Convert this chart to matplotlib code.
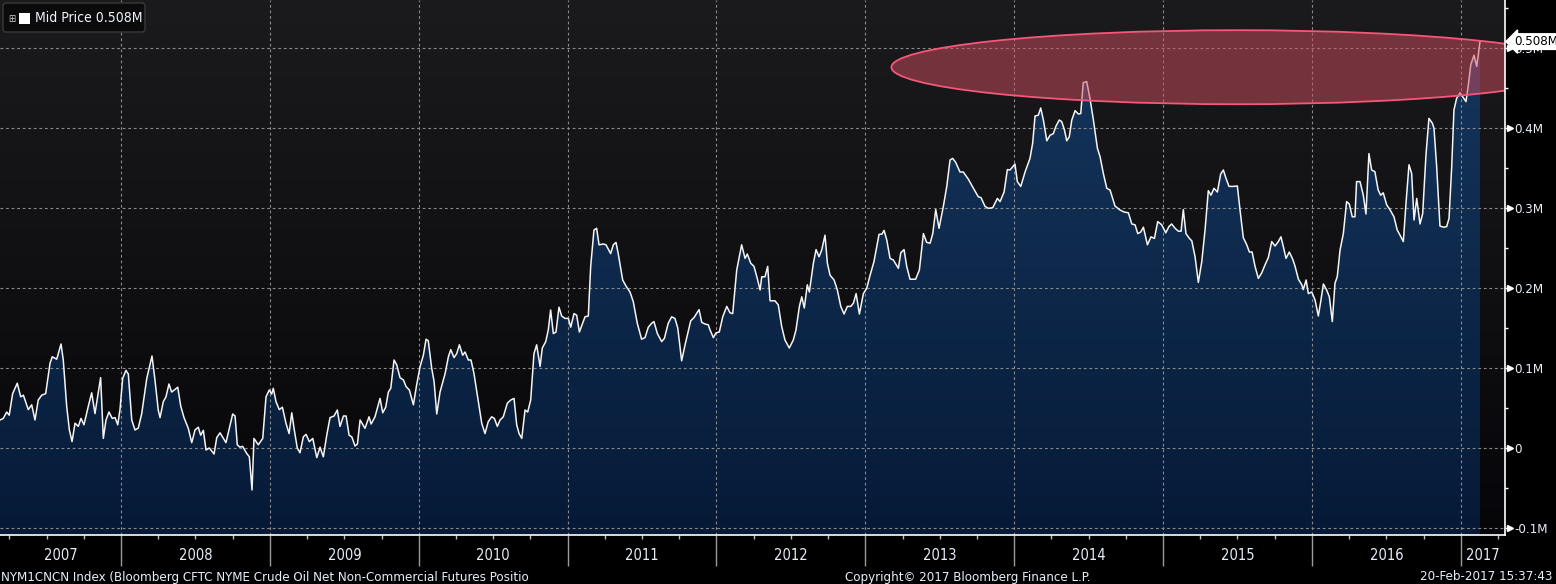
import numpy as np
import matplotlib
matplotlib.use('Agg')
import matplotlib.pyplot as plt
from matplotlib.patches import Ellipse, FancyBboxPatch, Rectangle
from matplotlib import transforms as mtransforms
from matplotlib.colors import LinearSegmentedColormap

plt.rcParams['font.family'] = ['DejaVu Sans']
plt.rcParams['font.stretch'] = 'condensed'

# ---------------- data (decimal years, net position in millions) ----------------
years = [
    2007.187, 2007.209, 2007.232, 2007.249, 2007.272, 2007.303, 2007.326, 2007.344, 2007.377, 2007.400,
    2007.422, 2007.444, 2007.467, 2007.494, 2007.523, 2007.538, 2007.568, 2007.597, 2007.612, 2007.635,
    2007.653, 2007.671, 2007.691, 2007.713, 2007.731, 2007.751, 2007.780, 2007.803, 2007.825, 2007.863,
    2007.881, 2007.899, 2007.919, 2007.941, 2007.960, 2007.978, 2007.993, 2008.011, 2008.033, 2008.049,
    2008.072, 2008.094, 2008.116, 2008.139, 2008.173, 2008.208, 2008.228, 2008.250, 2008.262, 2008.284,
    2008.302, 2008.322, 2008.340, 2008.358, 2008.381, 2008.401, 2008.423, 2008.452, 2008.475, 2008.497,
    2008.519, 2008.535, 2008.553, 2008.571, 2008.593, 2008.625, 2008.643, 2008.665, 2008.705, 2008.750,
    2008.766, 2008.781, 2008.799, 2008.817, 2008.844, 2008.862, 2008.880,
    2008.893, 2008.922, 2008.952, 2008.974, 2008.996, 2009.012, 2009.023, 2009.041, 2009.063, 2009.084,
    2009.108, 2009.129, 2009.147, 2009.164, 2009.184, 2009.202, 2009.225, 2009.243, 2009.265, 2009.288,
    2009.315, 2009.337, 2009.359, 2009.382, 2009.404, 2009.431, 2009.453, 2009.471, 2009.494, 2009.512,
    2009.532, 2009.550, 2009.572, 2009.588, 2009.606, 2009.639, 2009.666, 2009.680, 2009.706, 2009.740,
    2009.758, 2009.778, 2009.796, 2009.812, 2009.834, 2009.852, 2009.874, 2009.897, 2009.915, 2009.937,
    2009.964, 2009.986, 2010.009, 2010.031, 2010.049, 2010.064, 2010.087, 2010.103, 2010.121, 2010.143,
    2010.177, 2010.199, 2010.215, 2010.237, 2010.255, 2010.273, 2010.295, 2010.311, 2010.333, 2010.351,
    2010.371, 2010.400, 2010.423, 2010.445, 2010.467, 2010.490, 2010.508, 2010.528, 2010.546,
    2010.568, 2010.595, 2010.618, 2010.640, 2010.658, 2010.674, 2010.692, 2010.714, 2010.732, 2010.752,
    2010.774, 2010.792, 2010.815, 2010.830, 2010.853, 2010.870, 2010.886, 2010.904, 2010.922, 2010.942,
    2010.960, 2010.982, 2011.005, 2011.021, 2011.043, 2011.061, 2011.079, 2011.117, 2011.139, 2011.155,
    2011.177, 2011.195, 2011.211, 2011.240, 2011.258, 2011.289, 2011.307, 2011.325, 2011.340, 2011.370,
    2011.392, 2011.419, 2011.441, 2011.468, 2011.497, 2011.520, 2011.542, 2011.565, 2011.580, 2011.603,
    2011.632, 2011.650, 2011.676, 2011.699, 2011.721, 2011.740, 2011.766, 2011.789, 2011.827, 2011.849,
    2011.883, 2011.901, 2011.923, 2011.945, 2011.957, 2011.979, 2011.997, 2012.019, 2012.042, 2012.069,
    2012.091, 2012.109, 2012.136, 2012.169, 2012.192, 2012.207, 2012.230, 2012.252, 2012.274, 2012.293,
    2012.304, 2012.326, 2012.344, 2012.360, 2012.393, 2012.415, 2012.438, 2012.460, 2012.489, 2012.516,
    2012.534, 2012.557, 2012.573, 2012.590, 2012.610, 2012.624, 2012.651, 2012.669, 2012.689, 2012.707,
    2012.729, 2012.745, 2012.763, 2012.790, 2012.812, 2012.835, 2012.857, 2012.879, 2012.902, 2012.920,
    2012.938, 2012.960, 2012.987, 2013.009, 2013.032, 2013.058, 2013.092, 2013.112, 2013.126, 2013.144,
    2013.166, 2013.188, 2013.222, 2013.238, 2013.260, 2013.278, 2013.300, 2013.338, 2013.363, 2013.390,
    2013.412, 2013.435, 2013.453, 2013.473, 2013.495, 2013.524, 2013.547, 2013.569, 2013.587, 2013.607,
    2013.636, 2013.658, 2013.692, 2013.725, 2013.759, 2013.777, 2013.804, 2013.826, 2013.856, 2013.887,
    2013.905, 2013.932, 2013.954, 2013.972,
    2014.005, 2014.021, 2014.044, 2014.073, 2014.106, 2014.124, 2014.140, 2014.162, 2014.178, 2014.196,
    2014.219, 2014.241, 2014.263, 2014.281, 2014.303, 2014.319, 2014.337, 2014.353, 2014.370, 2014.387,
    2014.409, 2014.431, 2014.447, 2014.464, 2014.487, 2014.509, 2014.532, 2014.559, 2014.577, 2014.599,
    2014.622, 2014.644, 2014.677, 2014.711, 2014.738, 2014.767, 2014.790, 2014.812, 2014.830, 2014.850,
    2014.868, 2014.895, 2014.919, 2014.942, 2014.964, 2014.991, 2015.018, 2015.040, 2015.058, 2015.081,
    2015.103, 2015.121, 2015.136, 2015.154, 2015.177, 2015.193, 2015.215, 2015.237, 2015.260, 2015.282,
    2015.304, 2015.322, 2015.342, 2015.365, 2015.387, 2015.405, 2015.423, 2015.443, 2015.472, 2015.499,
    2015.517, 2015.539, 2015.562, 2015.580, 2015.598,
    2015.618, 2015.640, 2015.663, 2015.685, 2015.707, 2015.730, 2015.752, 2015.774, 2015.792, 2015.808,
    2015.826, 2015.848, 2015.871, 2015.887, 2015.909, 2015.932, 2015.942, 2015.961, 2015.976, 2015.999,
    2016.021, 2016.043, 2016.059, 2016.077, 2016.099, 2016.117, 2016.137, 2016.155, 2016.170, 2016.189,
    2016.211, 2016.233, 2016.251, 2016.271, 2016.289, 2016.300, 2016.323, 2016.345, 2016.363, 2016.383,
    2016.401, 2016.423, 2016.445, 2016.462, 2016.479, 2016.502, 2016.524, 2016.551, 2016.573, 2016.592,
    2016.614, 2016.632, 2016.652, 2016.670, 2016.686, 2016.704, 2016.726, 2016.744, 2016.766, 2016.786,
    2016.809, 2016.820, 2016.838, 2016.860, 2016.883, 2016.905, 2016.921, 2016.939, 2016.954, 2016.972,
    2016.995, 2017.017, 2017.035, 2017.051, 2017.067, 2017.089, 2017.107, 2017.129,
]

net_position = [
    0.035, 0.037, 0.045, 0.041, 0.068, 0.081, 0.064, 0.066, 0.048, 0.054,
    0.035, 0.060, 0.066, 0.068, 0.106, 0.114, 0.111, 0.130, 0.110, 0.052,
    0.0225, 0.008, 0.031, 0.027, 0.037, 0.029, 0.052, 0.069, 0.043, 0.088,
    0.012, 0.035, 0.045, 0.037, 0.038, 0.029, 0.048, 0.087, 0.097, 0.0925,
    0.035, 0.0225, 0.025, 0.043, 0.087, 0.115, 0.085, 0.0475, 0.038, 0.058,
    0.064, 0.080, 0.070, 0.0725, 0.076, 0.0525, 0.038, 0.0245, 0.0067, 0.0225,
    0.026, 0.016, 0.022, -0.0025, 0.000, -0.0075, 0.013, 0.019, 0.0067, 0.0425,
    0.040, 0.004, 0.001, 0.002, -0.0067, -0.011, -0.0525,
    0.012, 0.004, 0.012, 0.064, 0.0725, 0.0675, 0.0746, 0.058, 0.048, 0.051,
    0.031, 0.018, 0.044, 0.0225, 0.000, -0.006, 0.014, 0.017, 0.008, 0.012,
    -0.012, 0.001, -0.011, 0.016, 0.038, 0.040, 0.0475, 0.027, 0.040, 0.040,
    0.016, 0.014, 0.0025, 0.005, 0.035, 0.0246, 0.039, 0.030, 0.039, 0.062,
    0.044, 0.051, 0.070, 0.0746, 0.110, 0.104, 0.088, 0.085, 0.0767, 0.0725,
    0.054, 0.079, 0.1017, 0.116, 0.136, 0.134, 0.0996, 0.083, 0.0425, 0.070,
    0.093, 0.114, 0.123, 0.113, 0.118, 0.129, 0.116, 0.120, 0.110, 0.110,
    0.093, 0.058, 0.031, 0.018, 0.033, 0.039, 0.037, 0.027, 0.035,
    0.039, 0.056, 0.060, 0.062, 0.029, 0.018, 0.012, 0.0475, 0.045, 0.060,
    0.118, 0.129, 0.102, 0.125, 0.133, 0.1475, 0.1725, 0.143, 0.145, 0.176,
    0.165, 0.162, 0.162, 0.151, 0.168, 0.166, 0.145, 0.164, 0.165, 0.227,
    0.2725, 0.2746, 0.254, 0.255, 0.254, 0.243, 0.254, 0.257, 0.243, 0.210,
    0.2025, 0.195, 0.183, 0.156, 0.136, 0.138, 0.151, 0.156, 0.158, 0.143,
    0.133, 0.137, 0.156, 0.164, 0.162, 0.150, 0.109, 0.129, 0.159, 0.163,
    0.173, 0.157, 0.155, 0.154, 0.1475, 0.138, 0.144, 0.145, 0.164, 0.177,
    0.169, 0.168, 0.2225, 0.254, 0.237, 0.2425, 0.231, 0.227, 0.212, 0.1975,
    0.214, 0.214, 0.227, 0.184, 0.184, 0.179, 0.152, 0.135, 0.125, 0.135,
    0.1475, 0.177, 0.189, 0.175, 0.204, 0.195, 0.231, 0.248, 0.239, 0.2475,
    0.266, 0.231, 0.216, 0.210, 0.1975, 0.177, 0.1675, 0.177, 0.177, 0.181,
    0.193, 0.1675, 0.193, 0.1996, 0.216, 0.233, 0.267, 0.2675, 0.272, 0.260,
    0.237, 0.235, 0.2246, 0.244, 0.248, 0.227, 0.211, 0.211, 0.2225, 0.268,
    0.257, 0.256, 0.268, 0.298, 0.2746, 0.302, 0.327, 0.360, 0.362, 0.357,
    0.345, 0.345, 0.336, 0.325, 0.314, 0.313, 0.302, 0.2996, 0.3004, 0.312,
    0.308, 0.320, 0.348, 0.3475,
    0.355, 0.333, 0.327, 0.345, 0.362, 0.381, 0.415, 0.416, 0.425, 0.410,
    0.384, 0.391, 0.393, 0.4025, 0.410, 0.408, 0.398, 0.384, 0.389, 0.410,
    0.4217, 0.4175, 0.418, 0.4567, 0.458, 0.437, 0.410, 0.3746, 0.364, 0.343,
    0.3246, 0.3225, 0.3025, 0.2975, 0.295, 0.294, 0.280, 0.279, 0.268, 0.270,
    0.276, 0.254, 0.264, 0.262, 0.283, 0.279, 0.269, 0.277, 0.280, 0.2746,
    0.271, 0.271, 0.298, 0.268, 0.262, 0.259, 0.239, 0.207, 0.233, 0.2725,
    0.3217, 0.316, 0.3246, 0.320, 0.3425, 0.3475, 0.337, 0.327, 0.327, 0.3275,
    0.2975, 0.263, 0.254, 0.245, 0.245,
    0.227, 0.212, 0.219, 0.229, 0.238, 0.258, 0.2525, 0.258, 0.264, 0.2517,
    0.237, 0.245, 0.236, 0.227, 0.211, 0.204, 0.198, 0.210, 0.193, 0.195,
    0.185, 0.165, 0.183, 0.205, 0.1975, 0.189, 0.158, 0.206, 0.214, 0.2475,
    0.268, 0.308, 0.305, 0.289, 0.289, 0.333, 0.333, 0.316, 0.2925, 0.368,
    0.3475, 0.3454, 0.3225, 0.316, 0.319, 0.304, 0.298, 0.289, 0.2725, 0.266,
    0.258, 0.306, 0.354, 0.343, 0.285, 0.312, 0.280, 0.293, 0.366, 0.412,
    0.406, 0.3996, 0.3517, 0.2775, 0.276, 0.2767, 0.287, 0.3517, 0.4225, 0.437,
    0.444, 0.438, 0.433, 0.454, 0.479, 0.491, 0.477, 0.508,
]

year_labels = ['2007', '2008', '2009', '2010', '2011', '2012', '2013', '2014', '2015', '2016', '2017']
ytick_values = [-0.1, 0.0, 0.1, 0.2, 0.3, 0.4, 0.5]
ytick_labels = ['-0.1M', '0', '0.1M', '0.2M', '0.3M', '0.4M', '0.5M']
series_name = 'Mid Price'
last_value = 0.508
footer_left = 'NYM1CNCN Index (Bloomberg CFTC NYME Crude Oil Net Non-Commercial Futures Positio'
footer_mid = 'Copyright\u00a9 2017 Bloomberg Finance L.P.'
footer_right = '20-Feb-2017 15:37:43'

# highlight ellipse (centre year, centre value, width in years, height in M)
ell_center = (2015.50, 0.476)
ell_size = (4.65, 0.0925)

# ---------------- figure ----------------
W, H = 1556, 584
X0, X1 = 2007.187, 2017.297
Y0, Y1 = -0.10875, 0.56
TXT = '#e6eef8'

fig = plt.figure(figsize=(W / 100, H / 100), dpi=100, facecolor='black')
ax = fig.add_axes([0, 49 / H, 1505 / W, 535 / H])
ax.set_facecolor('black')

grad = np.linspace(0, 1, 256).reshape(-1, 1)
bg_cmap = LinearSegmentedColormap.from_list('bg', ['#060608', '#1b1b1d'])
ax.imshow(grad, extent=[X0, X1, Y0, Y1], origin='lower', aspect='auto',
          cmap=bg_cmap, zorder=0, interpolation='bilinear')

poly = ax.fill_between(years, net_position, Y0, facecolor='none', edgecolor='none', zorder=1)
fill_cmap = LinearSegmentedColormap.from_list('fill', ['#061a37', '#163860'])
im = ax.imshow(grad, extent=[X0, X1, Y0, Y1], origin='lower', aspect='auto',
               cmap=fill_cmap, zorder=1.5, interpolation='bilinear')
im.set_clip_path(poly.get_paths()[0], transform=ax.transData)

grid_kw = dict(color='#8a8a8a', lw=0.8, ls=(0, (2.5, 2.5)), zorder=2)
for v in ytick_values:
    ax.axhline(v, **grid_kw)
for yr in range(2008, 2018):
    ax.axvline(yr, **grid_kw)

ax.plot(years, net_position, color='#f4f4f4', lw=1.1, zorder=3)

ell = Ellipse(ell_center, ell_size[0], ell_size[1], facecolor=(0.82, 0.30, 0.38, 0.5),
              edgecolor='#f7567a', lw=1.3, zorder=4)
ax.add_patch(ell)

ax.set_xlim(X0, X1)
ax.set_ylim(Y0, Y1)

for s in ['top', 'left']:
    ax.spines[s].set_visible(False)
for s in ['right', 'bottom']:
    ax.spines[s].set_color('white')
    ax.spines[s].set_linewidth(1.2)
    ax.spines[s].set_zorder(6)

# y axis on right
ax.yaxis.tick_right()
ax.set_yticks(ytick_values, ytick_labels)
ax.set_yticks([v + 0.05 for v in ytick_values], minor=True)
ax.tick_params(axis='y', which='major', length=3, width=1, color='white',
               labelcolor=TXT, labelsize=9.5, pad=4)
ax.tick_params(axis='y', which='minor', length=2.5, width=1, color='white')
ytrans = mtransforms.blended_transform_factory(ax.transAxes, ax.transData)
tri_trans = mtransforms.offset_copy(ytrans, fig=fig, x=4.5, y=0, units='dots')
ax.plot([1.0] * len(ytick_values), ytick_values, ls='none', marker='>', ms=5,
        color='white', transform=tri_trans, clip_on=False, zorder=7)

ax.annotate(f'{last_value:.3f}M', xy=(1.0, last_value), xycoords=ytrans,
            xytext=(6.5, 0), textcoords='offset points', ha='left', va='center',
            color='black', fontsize=9.5,
            bbox=dict(boxstyle='larrow,pad=0.1', fc='white', ec='white'),
            annotation_clip=False, zorder=10)

# x axis
ax.set_xticks(list(range(2008, 2018)), [''] * 10)
minor_x = [y + q for y in range(2007, 2018) for q in (0.25, 0.5, 0.75) if X0 < y + q < X1]
ax.set_xticks(minor_x, minor=True)
ax.tick_params(axis='x', which='major', length=22, width=1, color='#9a9a9a')
ax.tick_params(axis='x', which='minor', length=3, width=1, color='#bdbdbd')
xtrans = mtransforms.blended_transform_factory(ax.transData, ax.transAxes)
for i, lab in enumerate(year_labels):
    start = max(2007 + i, X0)
    end = min(2008 + i, X1)
    ax.annotate(lab, xy=((start + end) / 2, 0), xycoords=xtrans, xytext=(0, -15),
                textcoords='offset points', ha='center', va='center',
                color=TXT, fontsize=10.5, annotation_clip=False)

# footer
fy = 7 / H
fig.text(1 / W, fy, footer_left, ha='left', va='center', color=TXT, fontsize=9.5)
fig.text(968 / W, fy, footer_mid, ha='center', va='center', color=TXT, fontsize=9.5)
fig.text(1553 / W, fy, footer_right, ha='right', va='center', color=TXT, fontsize=9.5)

# legend box (top-left)
pix = mtransforms.IdentityTransform()
leg = FancyBboxPatch((3, H - 32), 142, 29, boxstyle='round,pad=0,rounding_size=3',
                     transform=pix, facecolor='#0b0b0b', edgecolor='#3a3a3a', lw=1, zorder=20)
fig.patches.append(leg)
fig.patches.append(Rectangle((19, H - 24), 11, 11, transform=pix, facecolor='white',
                             edgecolor='none', zorder=21))
fig.text(12 / W, (H - 18.5) / H, '\u229e', ha='center', va='center', color='#cccccc',
         fontsize=7, zorder=21)
fig.text(35 / W, (H - 18.5) / H, f'{series_name} {last_value:.3f}M', ha='left', va='center',
         color='#f0f4fa', fontsize=10, zorder=21)

fig.savefig('out.png', dpi=100, facecolor='black')
